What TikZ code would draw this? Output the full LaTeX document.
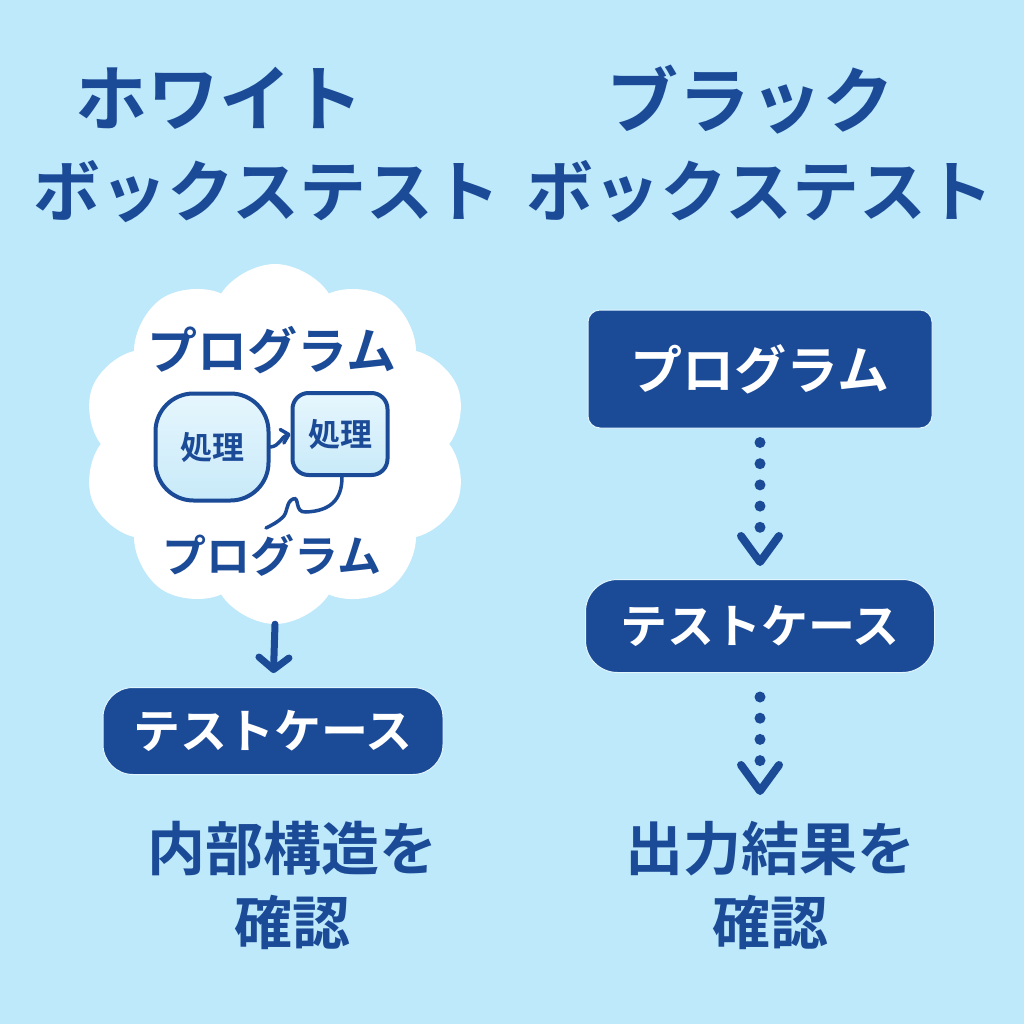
\documentclass[tikz,border=0pt]{standalone}
\usepackage{fontspec}
\setmainfont{Noto Sans CJK JP}[BoldFont=* Bold]
\usetikzlibrary{arrows.meta,shapes.symbols,calc}
\definecolor{bg}{HTML}{BDE9FB}
\definecolor{navy}{HTML}{1B4A97}
\definecolor{paletop}{HTML}{E6F6FD}
\definecolor{palebot}{HTML}{C8EAF9}
\newcommand{\fs}[1]{\fontsize{#1}{#1}\selectfont}
\begin{document}
\begin{tikzpicture}[x=1pt,y=-1pt,
  title/.style={text=navy,font=\fs{67}\bfseries,inner sep=0,align=center},
  bigtitle/.style={title,font=\fs{72}\bfseries},
  darkbox/.style={fill=navy,text=white,inner sep=0,draw=white!55!bg,line width=1pt},
  procbox/.style={draw=navy,line width=4pt,top color=paletop,bottom color=palebot,text=navy,font=\fs{32}\bfseries,inner sep=0},
  navytext/.style={text=navy,inner sep=0},
  conn/.style={draw=navy,line width=3.5pt,line cap=round},
  dotline/.style={draw=navy,line width=11pt,line cap=round,dash pattern=on 0pt off 21.2pt},
  chev/.style={draw=navy,line width=8pt,line cap=round,line join=round},
]
\fill[bg] (0,0) rectangle (1024,1024);
\useasboundingbox (0,0) rectangle (1024,1024);

% titles
\node[bigtitle] (tl1) at (219,98) {ホワイト};
\node[title] (tl2) at (267,192) {ボックステスト};
\node[bigtitle] (tr1) at (750,100) {ブラック};
\node[title] (tr2) at (760,192) {ボックステスト};

% cloud
\node[cloud, cloud puffs=10, cloud puff arc=115, aspect=1.07, minimum width=385pt, minimum height=360pt, fill=white, inner sep=0] (cloud) at (275,444) {};
\node[navytext,font=\fs{50}\bfseries] (p1) at (272,350) {プログラム};
\node[procbox,minimum width=113pt,minimum height=107pt,rounded corners=38pt] (pa) at (212,447) {処理};
\node[procbox,minimum width=95pt,minimum height=82pt,rounded corners=16pt] (pb) at (340,434) {処理};
\node[navytext,font=\fs{44}\bfseries] (p2) at (272,555) {プログラム};
\draw[conn,-{Straight Barb[length=7pt,width=14pt,round]}] (pa.east) to[out=5,in=195] (pb.west);
\coordinate (cend) at (266,528);
\draw[conn] ([xshift=2pt]pb.south) .. controls (342,500) and (330,511) .. (306,512)
  .. controls (294,513) and (300,496) .. (293,499)
  .. controls (286,502) and (288,512) .. (283,517)
  .. controls (278,522) and (272,525) .. (cend);

% left column
\node[darkbox,minimum width=340pt,minimum height=87pt,rounded corners=30pt,font=\fs{47}\bfseries] (ltest) at (273,731) {テストケース};
\draw[navy,line width=7pt,line cap=round,-{Straight Barb[length=12pt,width=30pt,round]},shorten >=14pt] (cloud.south) -- (ltest.north);
\node[navytext,font=\fs{58}\bfseries,align=center] (lres) at (292,885) {内部構造を\\[16pt]確認};

% right column
\node[darkbox,minimum width=344pt,minimum height=118pt,rounded corners=12pt,font=\fs{52}\bfseries] (rprog) at (760,369) {プログラム};
\node[darkbox,minimum width=349pt,minimum height=93pt,rounded corners=32pt,font=\fs{47}\bfseries] (rtest) at (760,626) {テストケース};
\node[navytext,font=\fs{58}\bfseries,align=center] (rres) at (770,885) {出力結果を\\[16pt]確認};
\draw[dotline,shorten <=14pt,shorten >=42pt] (rprog.south) -- (rtest.north);
\draw[chev] ($(rtest.north)+(-19,-43)$) -- ($(rtest.north)+(0,-17)$) -- ($(rtest.north)+(19,-43)$);
\coordinate (rarr) at (760,795);
\draw[dotline,shorten <=24pt,shorten >=30pt] (rtest.south) -- (rarr);
\draw[chev] ($(rarr)+(-19,-30)$) -- ($(rarr)+(0,-4)$) -- ($(rarr)+(19,-30)$);
\end{tikzpicture}
\end{document}
